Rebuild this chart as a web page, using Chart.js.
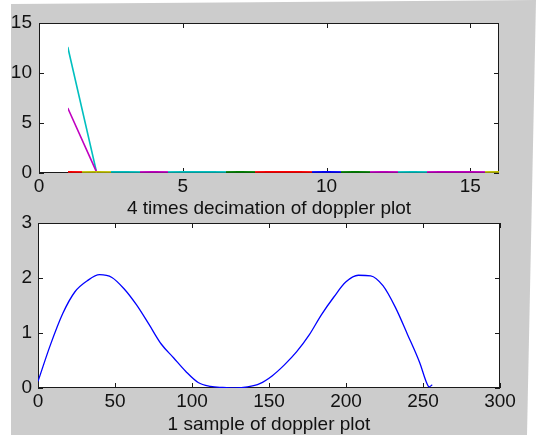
<!DOCTYPE html>
<html>
<head>
<meta charset="utf-8">
<script src="https://cdn.jsdelivr.net/npm/chart.js@4"></script>
<style>
  html, body { margin: 0; padding: 0; background: #fff; }
  #fig { position: relative; width: 536px; height: 435px; overflow: hidden; }
  #bg { position: absolute; left: 0; top: 0; width: 536px; height: 435px; background: #cccccc;
        clip-path: polygon(11px 4px, 536px 0px, 527px 435px, 11px 435px); }
  canvas { position: absolute; left: 0; }
  #top { top: 0; }
  #bottom { top: 200px; }
</style>
</head>
<body>
<div id="fig">
  <div id="bg"></div>
  <canvas id="top" width="536" height="225"></canvas>
  <canvas id="bottom" width="536" height="235"></canvas>
</div>
<script>
// ---- dados do grafico de cima (decimacao por 4) ----
var topX = [1, 2, 3, 4, 5, 6, 7, 8, 9, 10, 11, 12, 13, 14, 15, 16];
var cyanSeries    = [12.6, 0.11, 0.11, 0.10, 0.11, 0.11, 0.10, 0.10, 0.10, 0.10, 0.10, 0.10, 0.11, 0.10, 0.10, 0.10];
var magentaSeries = [6.5, 0.11, 0.10, 0.11, 0.10, 0.10, 0.10, 0.10, 0.10, 0.10, 0.10, 0.11, 0.10, 0.11, 0.11, 0.10];
var redSeries     = [0.11, 0.10, 0.10, 0.10, 0.10, 0.10, 0.10, 0.11, 0.11, 0.10, 0.10, 0.10, 0.10, 0.10, 0.10, 0.10];
var yellowSeries  = [0.10, 0.11, 0.10, 0.10, 0.10, 0.10, 0.10, 0.10, 0.10, 0.10, 0.10, 0.10, 0.10, 0.10, 0.10, 0.11];
var greenSeries   = [0.10, 0.10, 0.10, 0.10, 0.10, 0.10, 0.11, 0.10, 0.10, 0.10, 0.11, 0.10, 0.10, 0.10, 0.10, 0.10];
var blueSeries    = [0.10, 0.10, 0.10, 0.10, 0.10, 0.10, 0.10, 0.10, 0.10, 0.11, 0.10, 0.10, 0.10, 0.10, 0.10, 0.10];
var topXTicks = [0, 5, 10, 15];
var topYTicks = [0, 5, 10, 15];

// trechos (em x) onde cada linha fica por cima das outras
var cyanOnTop    = [[1, 2], [2.5, 3.5], [4.5, 6.5], [12.5, 13.5]];
var magentaOnTop = [[1, 2], [3.5, 4.5], [11.5, 12.5], [13.5, 15.5]];
var redOnTop     = [[1, 1.5], [7.5, 9.5]];
var yellowOnTop  = [[1.5, 2.5], [15.5, 16]];
var greenOnTop   = [[6.5, 7.5], [10.5, 11.5]];
var blueOnTop    = [[9.5, 10.5]];

// ---- dados do grafico de baixo (1 amostra) ----
var sampleX = [0, 8, 16, 24, 32, 40, 48, 56, 64, 72, 80, 88, 96, 104, 112, 120, 128, 136, 144,
               152, 160, 168, 176, 184, 192, 200, 208, 216, 224, 232, 240, 248, 252, 254, 256];
var sampleY = [0.12, 0.78, 1.35, 1.75, 1.95, 2.06, 2.01, 1.80, 1.51, 1.16, 0.80, 0.55, 0.30, 0.10, 0.03, 0.01, 0.00, 0.02, 0.08,
               0.22, 0.42, 0.66, 0.96, 1.33, 1.65, 1.93, 2.05, 2.04, 1.86, 1.47, 0.97, 0.45, 0.12, 0.02, 0.06];
var bottomXTicks = [0, 50, 100, 150, 200, 250, 300];
var bottomYTicks = [0, 1, 2, 3];

var textColor = '#111';
var tickFont = { family: 'Liberation Sans, Arial, sans-serif', size: 19, lineHeight: 1 };

function points(xs, ys) {
    return xs.map(function (x, i) { return { x: x, y: ys[i] }; });
}

// gradiente horizontal: so mostra a cor nos trechos indicados
function spanColor(color, spans) {
    return function (ctx) {
        var chart = ctx.chart;
        var xs = chart.scales.x;
        if (!chart.chartArea || !xs) return color;
        var p0 = xs.getPixelForValue(xs.min), p1 = xs.getPixelForValue(xs.max);
        var g = chart.ctx.createLinearGradient(p0, 0, p1, 0);
        var clear = 'rgba(0,0,0,0)';
        g.addColorStop(0, clear);
        spans.forEach(function (s) {
            var a = (s[0] - xs.min) / (xs.max - xs.min);
            var b = (s[1] - xs.min) / (xs.max - xs.min);
            g.addColorStop(a, clear);
            g.addColorStop(a, color);
            g.addColorStop(b, color);
            g.addColorStop(b, clear);
        });
        g.addColorStop(1, clear);
        return g;
    };
}

// fundo branco, moldura e ticks para dentro (estilo matlab)
var axesFrame = {
    id: 'axesFrame',
    beforeDraw: function (chart) {
        var a = chart.chartArea, c = chart.ctx;
        c.save();
        c.fillStyle = '#fff';
        c.fillRect(a.left, a.top, a.right - a.left, a.bottom - a.top);
        c.restore();
    },
    beforeDatasetsDraw: function (chart) {
        var a = chart.chartArea, c = chart.ctx;
        var tl = 5;
        c.save();
        c.strokeStyle = '#1a1a1a';
        c.lineWidth = 1;
        c.strokeRect(a.left + 0.5, a.top + 0.5, a.right - a.left - 1, a.bottom - a.top - 1);
        c.beginPath();
        chart.scales.x.ticks.forEach(function (t) {
            var px = Math.round(chart.scales.x.getPixelForValue(t.value)) + 0.5;
            c.moveTo(px, a.bottom); c.lineTo(px, a.bottom - tl);
            c.moveTo(px, a.top); c.lineTo(px, a.top + tl);
        });
        chart.scales.y.ticks.forEach(function (t) {
            var py = Math.round(chart.scales.y.getPixelForValue(t.value)) + 0.5;
            c.moveTo(a.left, py); c.lineTo(a.left + tl, py);
            c.moveTo(a.right, py); c.lineTo(a.right - tl, py);
        });
        c.stroke();
        c.restore();
    }
};

function lineSet(data, color, spans) {
    return {
        data: data,
        borderColor: spanColor(color, spans),
        borderWidth: 1.6,
        pointRadius: 0,
        tension: 0,
        fill: false
    };
}

function axisX(min, max, tickList, title, height, titlePad) {
    return {
        type: 'linear', min: min, max: max,
        grid: { display: false, drawTicks: false },
        border: { display: false },
        ticks: { color: textColor, font: tickFont, padding: 4, maxRotation: 0, autoSkip: false },
        afterBuildTicks: function (s) { s.ticks = tickList.map(function (v) { return { value: v }; }); },
        afterFit: function (s) { s.height = height; },
        title: { display: true, text: title, color: textColor, font: tickFont, padding: { top: 0, bottom: titlePad } }
    };
}

function axisY(min, max, tickList, width, pad) {
    return {
        type: 'linear', min: min, max: max,
        grid: { display: false, drawTicks: false },
        border: { display: false },
        ticks: { color: textColor, font: tickFont, padding: pad, autoSkip: false },
        afterBuildTicks: function (s) { s.ticks = tickList.map(function (v) { return { value: v }; }); },
        afterFit: function (s) { s.width = width; }
    };
}

var topChart = new Chart(document.getElementById('top'), {
    type: 'line',
    data: {
        datasets: [
            lineSet(points(topX, redSeries), '#ff0000', redOnTop),
            lineSet(points(topX, yellowSeries), '#bfbf00', yellowOnTop),
            lineSet(points(topX, greenSeries), '#008000', greenOnTop),
            lineSet(points(topX, blueSeries), '#0000ff', blueOnTop),
            lineSet(points(topX, magentaSeries), '#c000c0', magentaOnTop),
            lineSet(points(topX, cyanSeries), '#00bfbf', cyanOnTop)
        ]
    },
    options: {
        responsive: false,
        animation: false,
        layout: { padding: { left: 0, top: 23, right: 37, bottom: 0 } },
        plugins: { legend: { display: false }, tooltip: { enabled: false } },
        scales: {
            x: axisX(0, 16, topXTicks, '4 times decimation of doppler plot', 52, 6.5),
            y: axisY(0, 15, topYTicks, 39, 7)
        }
    },
    plugins: [axesFrame]
});

var bottomChart = new Chart(document.getElementById('bottom'), {
    type: 'line',
    data: {
        datasets: [{
            data: points(sampleX, sampleY),
            borderColor: '#0000ff',
            borderWidth: 1.3,
            pointRadius: 0,
            cubicInterpolationMode: 'monotone',
            fill: false
        }]
    },
    options: {
        responsive: false,
        animation: false,
        layout: { padding: { left: 0, top: 23, right: 36, bottom: 0 } },
        plugins: { legend: { display: false }, tooltip: { enabled: false } },
        scales: {
            x: axisX(0, 300, bottomXTicks, '1 sample of doppler plot', 47, 0.5),
            y: axisY(0, 3, bottomYTicks, 38, 6)
        }
    },
    plugins: [axesFrame]
});
</script>
</body>
</html>
